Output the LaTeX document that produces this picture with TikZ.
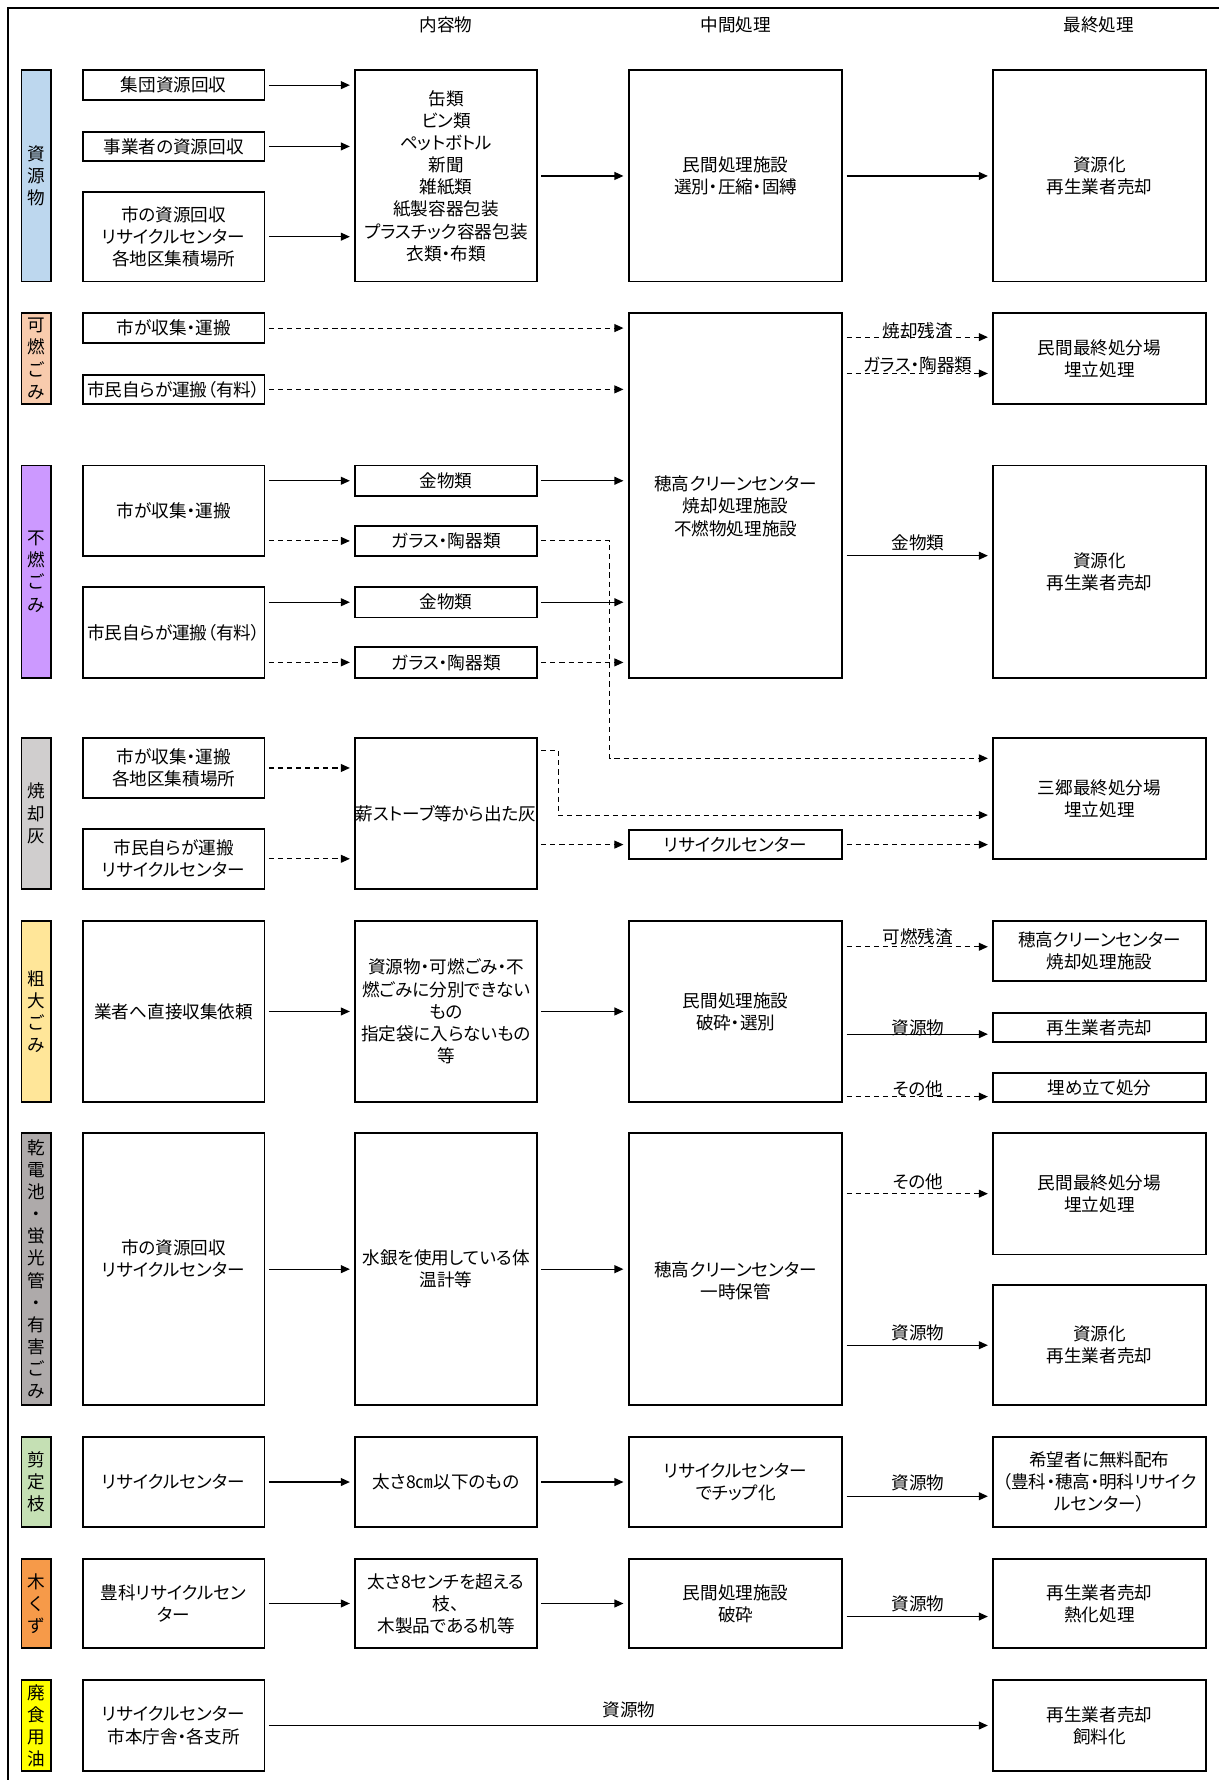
\documentclass[tikz,border=0pt]{standalone}
\usepackage{fontspec}
\setmainfont{Noto Sans CJK JP}[RawFeature=+palt]
\usetikzlibrary{arrows.meta}

\definecolor{cRes}{HTML}{BDD7EE}
\definecolor{cBurn}{HTML}{F8CBAD}
\definecolor{cNon}{HTML}{CC99FF}
\definecolor{cAsh}{HTML}{D0CECE}
\definecolor{cBulk}{HTML}{FFE699}
\definecolor{cHaz}{HTML}{AEAAAA}
\definecolor{cPrune}{HTML}{C5E0B4}
\definecolor{cWood}{HTML}{F69A49}
\definecolor{cOil}{HTML}{FFFF00}

% box: name, x1, y1, x2, y2, text
\newcommand{\mkbox}[6]{\node[box, minimum width={#4-#2}, minimum height={#5-#3}] (#1) at ({(#2+#4)/2},{(#3+#5)/2}) {#6};}
% category bar: name, y1, y2, colour, text
\newcommand{\mkbar}[5]{\node[bar, fill=#4, minimum width=26, minimum height={#3-#2}] (#1) at (32,{(#2+#3)/2}) {#5};}

\begin{document}
\begin{tikzpicture}[x=1pt,y=-1pt,
  every node/.style={font=\fontsize{15.5}{19.5}\selectfont, inner sep=0pt},
  box/.style={draw, line width=1.6pt, fill=white, align=center},
  bar/.style={draw, line width=1.6pt, align=center},
  txt/.style={align=center},
  conn/.style={line width=1.1pt, -{Triangle[length=8pt,width=7pt]}, shorten <=3pt, shorten >=4pt},
  dconn/.style={conn, line width=1pt, dash pattern=on 4.5pt off 3.5pt}]

\useasboundingbox (0,0) rectangle (1073,1568);

% outer frame (top and left edges)
\draw[line width=2.2pt, line join=miter] (1080,7) -- (7,7) -- (7,1575);

% column headings
\node (hd1) at (393,22) {内容物};
\node (hd2) at (648,22) {中間処理};
\node (hd3) at (968,22) {最終処理};

% ---- 資源物 ----
\mkbar{bar1}{62}{248}{cRes}{資\\源\\物}
\mkbox{a1}{73}{62}{233}{88}{集団資源回収}
\mkbox{a2}{73}{116}{233}{142}{事業者の資源回収}
\mkbox{a3}{73}{169}{233}{248}{市の資源回収\\リサイクルセンター\\各地区集積場所}
\mkbox{a4}{313}{62}{473}{248}{缶類\\ビン類\\ペットボトル\\新聞\\雑紙類\\紙製容器包装\\プラスチック容器包装\\衣類・布類}
\mkbox{a5}{554}{62}{742}{248}{民間処理施設\\選別・圧縮・固縛}
\mkbox{a6}{875}{62}{1062}{248}{資源化\\再生業者売却}

% ---- 可燃ごみ ----
\mkbar{bar2}{276}{356}{cBurn}{可\\燃\\ご\\み}
\mkbox{b1}{73}{276}{233}{302}{市が収集・運搬}
\mkbox{b2}{73}{330}{233}{356}{市民自らが運搬（有料）}
\node[box, minimum width=188, minimum height=321] (h1) at (648,436.5) {};
\node[txt] (h1t) at (648,446) {穂高クリーンセンター\\焼却処理施設\\不燃物処理施設};
\mkbox{b3}{875}{276}{1062}{356}{民間最終処分場\\埋立処理}

% ---- 不燃ごみ ----
\mkbar{bar3}{410}{597}{cNon}{不\\燃\\ご\\み}
\mkbox{c1}{73}{410}{233}{490}{市が収集・運搬}
\mkbox{c2}{73}{517}{233}{597}{市民自らが運搬（有料）}
\mkbox{c3}{313}{410}{473}{437}{金物類}
\mkbox{c4}{313}{463}{473}{490}{ガラス・陶器類}
\mkbox{c5}{313}{517}{473}{544}{金物類}
\mkbox{c6}{313}{570}{473}{597}{ガラス・陶器類}
\mkbox{c7}{875}{410}{1062}{597}{資源化\\再生業者売却}

% ---- 焼却灰 ----
\mkbar{bar4}{650}{783}{cAsh}{焼\\却\\灰}
\mkbox{d1}{73}{650}{233}{703}{市が収集・運搬\\各地区集積場所}
\mkbox{d2}{73}{730}{233}{783}{市民自らが運搬\\リサイクルセンター}
\mkbox{d3}{313}{650}{473}{783}{薪ストーブ等から出た灰}
\mkbox{d4}{554}{731}{742}{757}{リサイクルセンター}
\mkbox{d5}{875}{650}{1062}{757}{三郷最終処分場\\埋立処理}

% ---- 粗大ごみ ----
\mkbar{bar5}{811}{971}{cBulk}{粗\\大\\ご\\み}
\mkbox{e1}{73}{811}{233}{971}{業者へ直接収集依頼}
\mkbox{e2}{313}{811}{473}{971}{資源物・可燃ごみ・不\\燃ごみに分別できない\\もの\\指定袋に入らないもの\\等}
\mkbox{e3}{554}{811}{742}{971}{民間処理施設\\破砕・選別}
\mkbox{e4}{875}{811}{1062}{864}{穂高クリーンセンター\\焼却処理施設}
\mkbox{e5}{875}{892}{1062}{918}{再生業者売却}
\mkbox{e6}{875}{945}{1062}{971}{埋め立て処分}

% ---- 乾電池・蛍光管・有害ごみ ----
\mkbar{bar6}{998}{1238}{cHaz}{乾\\電\\池\\・\\蛍\\光\\管\\・\\有\\害\\ご\\み}
\node[box, minimum width=160, minimum height=240] (f1) at (153,1118) {};
\node[txt] (f1t) at (153,1108.5) {市の資源回収\\リサイクルセンター};
\mkbox{f2}{313}{998}{473}{1238}{水銀を使用している体\\温計等}
\node[box, minimum width=188, minimum height=240] (f3) at (648,1118) {};
\node[txt] (f3t) at (648,1128) {穂高クリーンセンター\\一時保管};
\mkbox{f4}{875}{998}{1062}{1105}{民間最終処分場\\埋立処理}
\mkbox{f5}{875}{1132}{1062}{1238}{資源化\\再生業者売却}

% ---- 剪定枝 ----
\mkbar{bar7}{1266}{1345}{cPrune}{剪\\定\\枝}
\mkbox{g1}{73}{1266}{233}{1345}{リサイクルセンター}
\mkbox{g2}{313}{1266}{473}{1345}{太さ8㎝以下のもの}
\mkbox{g3}{554}{1266}{742}{1345}{リサイクルセンター\\でチップ化}
\mkbox{g4}{875}{1266}{1062}{1345}{希望者に無料配布\\（豊科・穂高・明科リサイク\\ルセンター）}

% ---- 木くず ----
\mkbar{bar8}{1373}{1452}{cWood}{木\\く\\ず}
\mkbox{i1}{73}{1373}{233}{1452}{豊科リサイクルセン\\ター}
\mkbox{i2}{313}{1373}{473}{1452}{太さ8センチを超える\\枝、\\木製品である机等}
\mkbox{i3}{554}{1373}{742}{1452}{民間処理施設\\破砕}
\mkbox{i4}{875}{1373}{1062}{1452}{再生業者売却\\熱化処理}

% ---- 廃食用油 ----
\mkbar{bar9}{1480}{1560}{cOil}{廃\\食\\用\\油}
\mkbox{j1}{73}{1480}{233}{1560}{リサイクルセンター\\市本庁舎・各支所}
\mkbox{j2}{875}{1480}{1062}{1560}{再生業者売却\\飼料化}

% ================= connectors =================
% 資源物
\draw[conn] (a1.east) -- (a1.east -| a4.west);
\draw[conn] (a2.east) -- (a2.east -| a4.west);
\draw[conn] (a3.east) -- (a3.east -| a4.west);
\draw[conn] (a4.east) -- (a5.west);
\draw[conn] (a5.east) -- (a6.west);

% 可燃ごみ
\draw[dconn] (b1.east) -- (b1.east -| h1.west);
\draw[dconn] (b2.east) -- (b2.east -| h1.west);
\draw[dconn] (h1.east |- 0,297) -- node[midway, yshift=6pt] {焼却残渣} (b3.west |- 0,297);
\draw[dconn] (h1.east |- 0,329) -- node[midway, yshift=7.5pt] {ガラス・陶器類} (b3.west |- 0,329);

% 不燃ごみ
\draw[conn] (c1.east |- c3) -- (c3.west);
\draw[dconn] (c1.east |- c4) -- (c4.west);
\draw[conn] (c2.east |- c5) -- (c5.west);
\draw[dconn] (c2.east |- c6) -- (c6.west);
\draw[conn] (c3.east) -- (c3.east -| h1.west);
\draw[conn] (c5.east) -- (c5.east -| h1.west);
\draw[dconn] (c6.east) -- (c6.east -| h1.west);
\draw[dconn] (c4.east) -- (c4.east -| 537,0) -- (537,668) -- (d5.west |- 0,668);
\draw[conn] (h1.east |- 0,489.5) -- node[midway, yshift=11.5pt] {金物類} (c7.west |- 0,489.5);

% 焼却灰
\draw[dconn] (d1.east) -- (d1.east -| d3.west);
\draw[dconn] (d2.east) -- (d2.east -| d3.west);
\draw[dconn] (d3.east |- 0,661) -- (492,661) -- (492,718) -- (d5.west |- 0,718);
\draw[dconn] (d3.east |- d4) -- (d4.west);
\draw[dconn] (d4.east) -- (d4.east -| d5.west);

% 粗大ごみ
\draw[conn] (e1.east) -- (e2.west);
\draw[conn] (e2.east) -- (e3.west);
\draw[dconn] (e3.east |- 0,834) -- node[midway, yshift=9pt] {可燃残渣} (e4.west |- 0,834);
\draw[conn] (e3.east |- 0,911) -- node[midway, yshift=6pt] {資源物} (e5.west |- 0,911);
\draw[dconn] (e3.east |- 0,966) -- node[midway, yshift=7pt] {その他} (e6.west |- 0,966);

% 乾電池・蛍光管・有害ごみ
\draw[conn] (f1.east) -- (f2.west);
\draw[conn] (f2.east) -- (f3.west);
\draw[dconn] (f3.east |- f4) -- node[midway, yshift=10.5pt] {その他} (f4.west);
\draw[conn] (f3.east |- f5) -- node[midway, yshift=11pt] {資源物} (f5.west);

% 剪定枝
\draw[conn] (g1.east) -- (g2.west);
\draw[conn] (g2.east) -- (g3.west);
\draw[conn] (g3.east |- 0,1318) -- node[midway, yshift=11.5pt] {資源物} (g4.west |- 0,1318);

% 木くず
\draw[conn] (i1.east) -- (i2.west);
\draw[conn] (i2.east) -- (i3.west);
\draw[conn] (i3.east |- 0,1424) -- node[midway, yshift=11pt] {資源物} (i4.west |- 0,1424);

% 廃食用油
\draw[conn] (j1.east) -- node[midway, yshift=14pt] {資源物} (j2.west);

\end{tikzpicture}
\end{document}
